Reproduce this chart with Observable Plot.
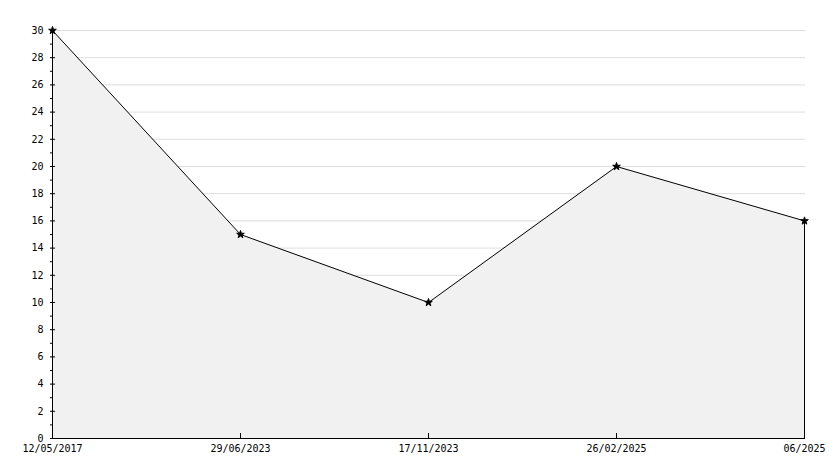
<!DOCTYPE html>
<html>
<head>
<meta charset="utf-8">
<script src="https://cdn.jsdelivr.net/npm/d3@7"></script>
<script src="https://cdn.jsdelivr.net/npm/@observablehq/plot@0.6"></script>
<style>
  html, body { margin: 0; padding: 0; background: #fff; }
  #chart { width: 834px; height: 468px; }
</style>
</head>
<body>
<div id="chart"></div>
<script>
const dates = ["12/05/2017", "29/06/2023", "17/11/2023", "26/02/2025", "06/2025"];
const values = [30, 15, 10, 20, 16];
const majorTicks = [0, 2, 4, 6, 8, 10, 12, 14, 16, 18, 20, 22, 24, 26, 28, 30];
const minorTicks = [1, 3, 5, 7, 9, 11, 13, 15, 17, 19, 21, 23, 25, 27, 29];
const gridTicks = [2, 4, 6, 8, 10, 12, 14, 16, 18, 20, 22, 24, 26, 28, 30];

const data = dates.map((d, i) => ({date: d, value: values[i]}));
const last = data[data.length - 1];

const chart = Plot.plot({
  width: 834,
  height: 468,
  marginLeft: 50,
  marginRight: 29,
  marginTop: 30,
  marginBottom: 30,
  style: {fontFamily: "'DejaVu Sans Mono', monospace", fontSize: "10px", fontWeight: "normal", background: "#fff", color: "#000"},
  x: {type: "point", domain: dates, padding: 0, label: null},
  y: {domain: [0, 30], label: null},
  marks: [
    Plot.gridY(gridTicks, {stroke: "#dddddd", strokeOpacity: 1, strokeWidth: 1}),
    Plot.areaY(data, {x: "date", y: "value", fill: "#f1f1f1", curve: "linear"}),
    Plot.lineY(data, {x: "date", y: "value", stroke: "#000", strokeWidth: 1}),
    Plot.ruleX([last], {x: "date", y1: 0, y2: "value", stroke: "#000"}),
    Plot.ruleY([0], {stroke: "#000"}),
    Plot.ruleX([dates[0]], {stroke: "#000"}),
    Plot.axisY(majorTicks, {anchor: "left", tickSize: 5, dx: 5, tickFormat: () => "", label: null}),
    Plot.axisY(minorTicks, {anchor: "left", tickSize: 3, dx: 3, tickFormat: () => "", label: null}),
    Plot.axisY(majorTicks, {anchor: "left", tickSize: 0, tickPadding: 7, label: null, fontSize: 10}),
    Plot.axisX(dates.slice(1, -1), {anchor: "bottom", tickSize: 5, dy: -5, tickFormat: () => "", label: null}),
    Plot.axisX(dates, {anchor: "bottom", tickSize: 0, tickPadding: 6, label: null, fontSize: 10}),
    Plot.dot(data, {x: "date", y: "value", symbol: "star", r: 2.4, fill: "#000", stroke: "#000", strokeWidth: 1})
  ]
});
document.getElementById("chart").appendChild(chart);
</script>
</body>
</html>
